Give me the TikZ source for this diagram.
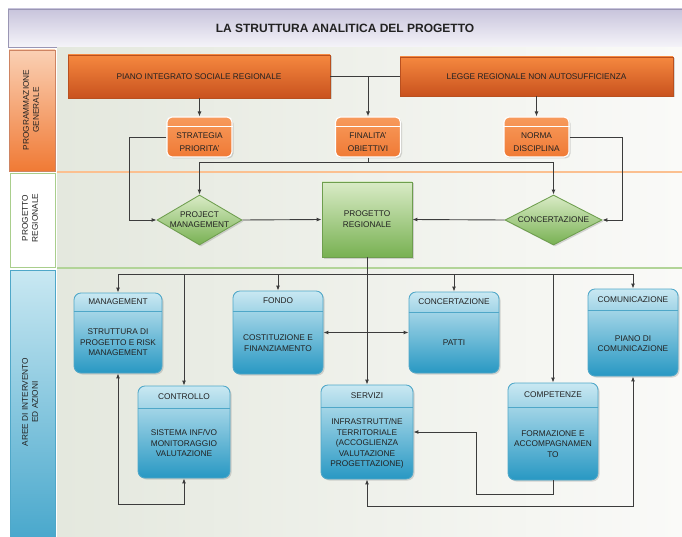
\documentclass[tikz,border=0pt]{standalone}
\usepackage{fontspec}
\setmainfont{Liberation Sans}
\usetikzlibrary{arrows.meta,shapes.geometric,shadows,calc}

\definecolor{titletop}{HTML}{C8C4DC}
\definecolor{titlebot}{HTML}{F5F4F9}
\definecolor{titleline}{HTML}{9A96B4}
\definecolor{laneleft}{HTML}{E4E8DE}
\definecolor{laneright}{HTML}{FAFAF8}
\definecolor{orangetop}{HTML}{F5883F}
\definecolor{orangebot}{HTML}{C9521E}
\definecolor{orangeline}{HTML}{B9501F}
\definecolor{goaltop}{HTML}{F79A5C}
\definecolor{goalbot}{HTML}{F07A35}
\definecolor{peach}{HTML}{FAD0B4}
\definecolor{greentop}{HTML}{D9EBC6}
\definecolor{greenbot}{HTML}{78B152}
\definecolor{greenline}{HTML}{6E9E4E}
\definecolor{bluetop}{HTML}{C9E8F2}
\definecolor{bluebot}{HTML}{2898C3}
\definecolor{blueline}{HTML}{4FA7C8}
\definecolor{wire}{HTML}{3C3C3C}
\definecolor{ink}{HTML}{222222}

% blue area box: name, x, y, width, height, header height, header, body
\newcommand{\areabox}[8]{%
  \node[area, minimum width=#4pt, minimum height=#5pt] (#1) at (#2,#3) {};
  \draw[areadiv] ([yshift=-#6pt]#1.north west) -- ([yshift=-#6pt]#1.north east);
  \node[areatext] (#1-head) at ($(#1.north)!0.5!([yshift=-#6pt]#1.north)$) {#7};
  \node[areatext] (#1-body) at ($(#1.south)!0.5!([yshift=-#6pt]#1.north)$) {#8};
}

% orange goal box: name, x, y, text
\newcommand{\goalbox}[4]{%
  \node[goal] (#1) at (#2,#3) {};
  \draw[goaldiv] ([yshift=-10pt]#1.north west) -- ([yshift=-10pt]#1.north east);
  \node[goaltext] (#1-text) at ([yshift=-5pt]#1.center) {#4};
}

\begin{document}
\begin{tikzpicture}[x=1pt, y=-1pt,
    >={Latex[length=5pt, width=4pt]},
    wire/.style={draw=wire, line width=0.9pt},
    lane/.style={left color=laneleft, right color=laneright},
    bandtext/.style={rotate=90, align=center, text=ink,
      font=\fontsize{8.3}{10}\selectfont},
    plan/.style={rectangle, draw=orangeline, line width=0.3mm,
      top color=orangetop, bottom color=orangebot, text=ink,
      font=\fontsize{8.3}{10}\selectfont,
      drop shadow={opacity=0.3, shadow xshift=1.5pt, shadow yshift=-1.5pt}},
    goal/.style={rectangle, rounded corners=5pt, draw=white, line width=0.4mm,
      top color=goaltop, bottom color=goalbot, minimum width=65pt, minimum height=40pt,
      drop shadow={opacity=0.3, shadow xshift=1.5pt, shadow yshift=-1.5pt}},
    goaldiv/.style={draw=white, line width=0.4mm},
    goaltext/.style={align=center, text=ink, font=\fontsize{8.3}{12.5}\selectfont},
    choice/.style={diamond, draw=greenline, line width=0.3mm, inner sep=0pt,
      top color=greentop, bottom color=greenbot, minimum height=50pt,
      drop shadow={opacity=0.3, shadow xshift=1.5pt, shadow yshift=-1.5pt}},
    choicetext/.style={align=center, text=ink, font=\fontsize{8.3}{10}\selectfont},
    core/.style={rectangle, draw=greenline, line width=0.3mm,
      top color=greentop, bottom color=greenbot, align=center, text=ink,
      font=\fontsize{8.3}{11}\selectfont, minimum width=90pt, minimum height=75pt,
      drop shadow={opacity=0.3, shadow xshift=1.5pt, shadow yshift=-1.5pt}},
    area/.style={rectangle, rounded corners=7pt, draw=blueline, line width=0.3mm,
      top color=bluetop, bottom color=bluebot,
      drop shadow={opacity=0.3, shadow xshift=1.5pt, shadow yshift=-1.5pt}},
    areadiv/.style={draw=blueline, line width=0.3mm},
    areatext/.style={align=center, text=ink, font=\fontsize{8.3}{10.5}\selectfont}
  ]
  \useasboundingbox (0,0) rectangle (682,537);

  % Title
  \node[rectangle, draw=titleline, line width=0.3mm, top color=titletop, bottom color=titlebot,
        minimum width=674pt, minimum height=38pt, text=ink,
        font=\fontsize{12}{14}\selectfont\bfseries] (title) at (345,28)
    {LA STRUTTURA ANALITICA DEL PROGETTO};

  % Lanes
  \fill[lane] (57,48) rectangle (682,171);
  \fill[lane] (57,173) rectangle (682,267);
  \fill[lane] (57,269) rectangle (682,537);
  \draw[line width=0.4mm, color=peach!80!orange] (57,172) -- (682,172);
  \draw[line width=0.4mm, color=greentop!60!greenbot] (57,268) -- (682,268);

  % Band labels
  \draw[line width=0.3mm, draw=orangeline!70, top color=peach, bottom color=goalbot]
    (9,50) rectangle (55,171);
  \node[bandtext] (bandprog) at (31,110) {PROGRAMMAZIONE\\GENERALE};
  \draw[line width=0.3mm, draw=greentop!50!greenbot, fill=white] (10,173) rectangle (55,267);
  \node[bandtext] (bandreg) at (30,218) {PROGETTO\\REGIONALE};
  \draw[line width=0.3mm, draw=blueline, top color=bluetop, bottom color=bluebot!85]
    (10,270) rectangle (55,540);
  \node[bandtext] (bandarea) at (30,402) {AREE DI INTERVENTO\\ED AZIONI};

  % Programmazione generale
  \node[plan, minimum width=262pt, minimum height=43pt] (piano) at (199,76.5)
    {PIANO INTEGRATO SOCIALE REGIONALE};
  \node[plan, minimum width=273pt, minimum height=39pt] (legge) at (536.5,76.5)
    {LEGGE REGIONALE NON AUTOSUFFICIENZA};
  \goalbox{strat}{199.5}{137}{STRATEGIA\\PRIORITA'}
  \goalbox{final}{368}{137}{FINALITA'\\OBIETTIVI}
  \goalbox{norma}{536.5}{137}{NORMA\\DISCIPLINA}

  % Progetto regionale
  \node[choice, minimum width=85pt,
        label={[choicetext, name=pm-text]center:PROJECT\\MANAGEMENT}] (pm) at (199.5,220) {};
  \node[choice, minimum width=97pt,
        label={[choicetext, name=conc-text]center:CONCERTAZIONE}] (conc) at (553.5,220) {};
  \node[core] (progetto) at (367,219.5) {PROGETTO\\REGIONALE};

  % Aree di intervento
  \areabox{mgmt}{118}{333}{88}{80}{19}{MANAGEMENT}{STRUTTURA DI\\PROGETTO E RISK\\MANAGEMENT}
  \areabox{fondo}{278}{332.5}{90}{83}{21}{FONDO}{COSTITUZIONE E\\FINANZIAMENTO}
  \areabox{patti}{454}{332.5}{90}{81}{21}{CONCERTAZIONE}{PATTI}
  \areabox{comun}{633}{332.5}{90}{87}{22}{COMUNICAZIONE}{PIANO DI\\COMUNICAZIONE}
  \areabox{ctrl}{184}{432}{92}{92}{23}{CONTROLLO}{SISTEMA INF/VO\\MONITORAGGIO\\VALUTAZIONE}
  \areabox{serv}{367}{432}{92}{94}{23}{SERVIZI}{INFRASTRUTT/NE\\TERRITORIALE\\(ACCOGLIENZA\\VALUTAZIONE\\PROGETTAZIONE)}
  \areabox{comp}{553}{431.5}{90}{97}{25}{COMPETENZE}{FORMAZIONE E\\ACCOMPAGNAMEN\\TO}

  % Connectors, top
  \draw[wire] (piano.east) -- (legge.west);
  \draw[wire, ->] (piano.east -| final.north) -- (final.north);
  \draw[wire, ->] (piano.south -| strat.north) -- (strat.north);
  \draw[wire, ->] (legge.south -| norma.north) -- (norma.north);
  \draw[wire, ->] (strat.west) -| ([xshift=-27pt]pm.west) -- (pm.west);
  \draw[wire, ->] (norma.east) -| ([xshift=20pt]conc.east) -- (conc.east);
  \coordinate (fbus) at ([yshift=-5pt]final.south);
  \draw[wire] (final.south) -- (fbus);
  \draw[wire, ->] (fbus) -| (pm.north);
  \draw[wire, ->] (fbus) -| (conc.north);
  \draw[wire, ->] (pm.east) -- (progetto.west);
  \draw[wire, ->] (conc.west) -- (progetto.east);

  % Connectors, areas
  \draw[wire, ->] (progetto.south) -- (serv.north);
  \coordinate (abus) at ([yshift=-17pt]progetto.south);
  \foreach \target in {mgmt, ctrl, fondo, patti, comp, comun}
    \draw[wire, ->] (abus) -| (\target.north);
  \draw[wire, <->] (fondo.east) -- (patti.west);
  \draw[wire, <->] (mgmt.south) |- ([yshift=-26pt]ctrl.south) -- (ctrl.south);
  \draw[wire, ->] (comp.south) -- ++(0,14) -| ([xshift=63pt]serv.east) -- (serv.east);
  \draw[wire, <->] (serv.south) -- ++(0,27) -| (comun.south);
\end{tikzpicture}
\end{document}
